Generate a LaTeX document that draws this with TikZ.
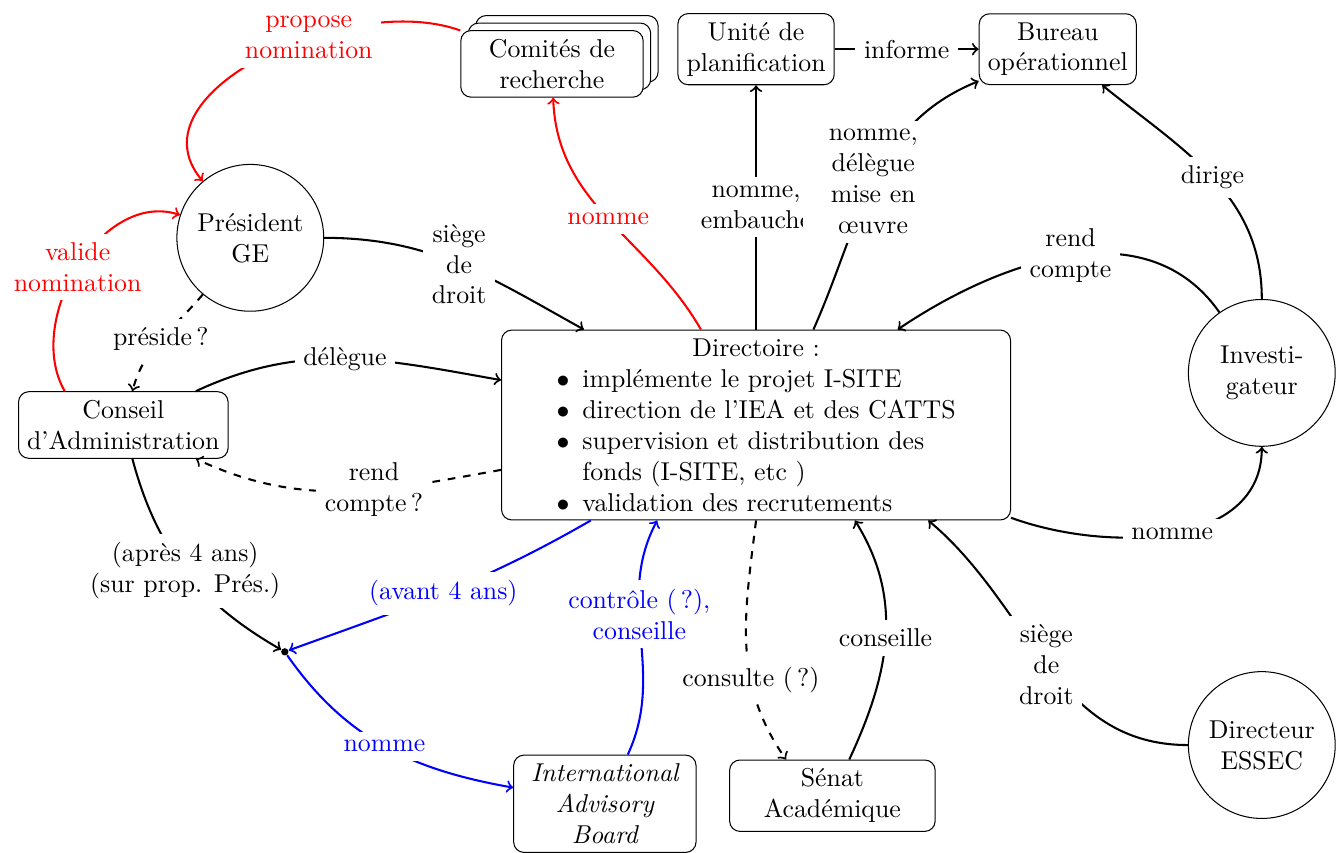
\documentclass[tikz,border=0pt]{standalone}
\usepackage{enumitem}
\usetikzlibrary{shadows}

\tikzset{
  box/.style={draw, rounded corners, align=center},
  rond/.style={draw, circle, minimum size=2cm, align=center},
  lbl/.style={fill=white, align=center},
  lien/.style={thick, ->},
}

\begin{document}
\begin{tikzpicture}
    \useasboundingbox (0,0) rectangle (18.31,11.62);

    % Instances
    \node[rond] (president) at (3.41,8.38) {Président\\GE};
    \node[box, fill=white, text width=2.25cm,
          copy shadow={shadow xshift=5.8pt, shadow yshift=5.8pt},
          copy shadow={shadow xshift=2.9pt, shadow yshift=2.9pt}] (comites) at (7.52,10.75) {Comités de\\recherche};
    \node[box] (unite) at (10.30,10.95) {Unité de\\planification};
    \node[box] (bureau) at (14.41,10.95) {Bureau\\opérationnel};
    \node[box] (conseil) at (1.68,5.83) {Conseil\\d’Administration};
    \node[box, text width=6.7cm] (dir) at (10.30,5.83) {%
        {\centering Directoire~:\par}\raggedright
        \begin{itemize}[nosep, leftmargin=28pt, rightmargin=10pt, label=$\bullet$]
            \item implémente le projet I-SITE
            \item direction de l’IEA et des CATTS
            \item supervision et distribution des fonds (I-SITE, etc )
            \item validation des recrutements
        \end{itemize}};
    \node[rond] (invest) at (17.19,6.54) {Investi-\\gateur};
    \node[rond] (essec) at (17.19,1.47) {Directeur\\ESSEC};
    \node[box, text width=2.25cm, font=\itshape] (iab) at (8.24,0.67) {International\\Advisory\\Board};
    \node[box, minimum width=2.8cm] (senat) at (11.34,0.78) {Sénat\\Académique};
    \node[circle, fill, inner sep=1pt] (dot) at (3.88,2.74) {};

    % Nominations (rouge)
    \draw[lien, red] (comites) to[out=160, in=130] node[lbl, pos=0.38] {propose\\nomination} (president);
    \draw[lien, red] (conseil.150) to[out=120, in=162] node[lbl] {valide\\nomination} (president);
    \draw[lien, red] (dir) to[out=120, in=-88] node[lbl] {nomme} (comites);

    % Liens principaux
    \draw[lien] (president) to[out=0, in=151] node[lbl] {siège\\de\\droit} (dir);
    \draw[lien, dashed] (president) to[out=230, in=75] node[lbl] {préside\,?} (conseil);
    \draw[lien] (conseil) to[out=25, in=170] node[lbl] {délègue} (dir);
    \draw[lien, dashed] (dir) to[out=190, in=-25] node[lbl, pos=0.4] {rend\\compte\,?} (conseil);
    \draw[lien] (conseil) to[out=-75, in=150] node[lbl] {(après 4 ans)\\(sur prop. Prés.)} (dot);
    \draw[lien] (dir) -- node[lbl] {nomme,\\embauche} (unite);
    \draw[lien] (dir.59) to[out=66, in=-158] node[lbl, text width=48pt] {nomme, délègue mise en œuvre} (bureau);
    \draw[lien] (unite) -- node[lbl] {informe} (bureau);
    \draw[lien] (invest) to[out=90, in=-39] node[lbl] {dirige} (bureau);
    \draw[lien] (invest) to[out=125, in=34] node[lbl] {rend\\compte} (dir);
    \draw[lien] (dir) to[out=-20, in=-90] node[lbl] {nomme} (invest);
    \draw[lien] (essec) to[out=180, in=-40] node[lbl] {siège\\de\\droit} (dir.-29);
    \draw[lien] (senat) to[out=65, in=-58] node[lbl] {conseille} (dir.-44);
    \draw[lien, dashed] (dir.-90) to[out=-97, in=125] node[lbl, pos=0.65] {consulte (\,?)} (senat.142);

    % Conseil scientifique (bleu)
    \draw[lien, blue] (dir) to[out=210, in=20] node[lbl] {(avant 4 ans)} (dot);
    \draw[lien, blue] (dot) to[out=-55, in=170] node[lbl] {nomme} (iab);
    \draw[lien, blue] (iab) to[out=65, in=-118] node[lbl, pos=0.6] {contrôle (\,?),\\conseille} (dir.224);
\end{tikzpicture}
\end{document}
